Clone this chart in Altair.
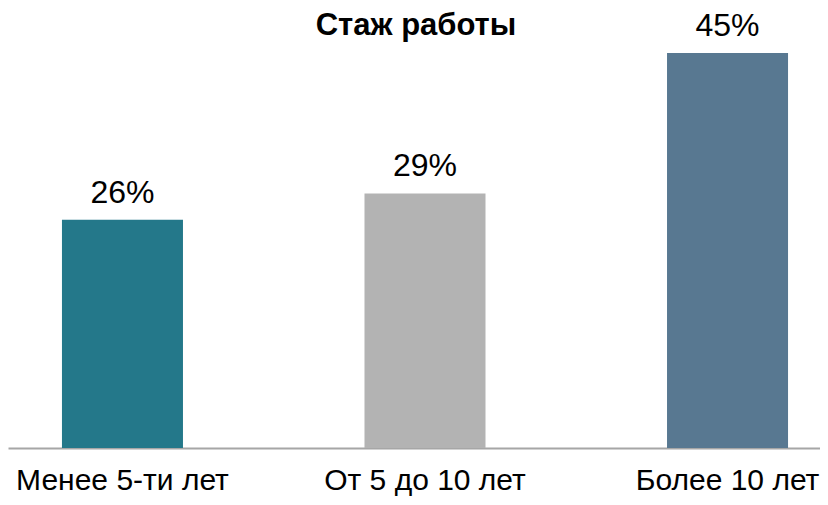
import altair as alt
import pandas as pd

categories = ["Менее 5-ти лет", "От 5 до 10 лет", "Более 10 лет"]
values = [26, 29, 45]
colors = ["#24788a", "#b3b3b3", "#587891"]
title_text = "Стаж работы"

df = pd.DataFrame({"cat": categories, "val": values, "color": colors})

FONT = "Liberation Sans"

x = alt.X(
    "cat:N",
    sort=categories,
    scale=alt.Scale(paddingInner=0.6, paddingOuter=0.142, align=0.628),
    axis=alt.Axis(
        title=None, labelAngle=0, ticks=False, tickSize=0, labelPadding=17,
        labelFontSize=30, labelFont=FONT, labelColor="#000000",
        domainColor="#a6a6a6", domainWidth=2, grid=False, labelLimit=400,
    ),
)
y = alt.Y("val:Q", scale=alt.Scale(domain=[0, 50]), axis=None)

base = alt.Chart(df)
bars = base.mark_bar().encode(x=x, y=y, color=alt.Color("color:N", scale=None))
labels = base.transform_calculate(lbl="datum.val + '%'").mark_text(
    dy=-17, baseline="alphabetic", fontSize=32, font=FONT, color="#000000"
).encode(x=x, y=y, text="lbl:N")

title = alt.Chart(pd.DataFrame({"t": [title_text]})).mark_text(
    fontSize=31, font=FONT, fontWeight="bold", baseline="alphabetic", color="#000000"
).encode(text="t:N", x=alt.value(408), y=alt.value(26))

chart = alt.layer(bars, labels, title).properties(
    width=812, height=439,
    padding={"left": 0, "top": 1, "right": 0, "bottom": 49},
    autosize="none",
).configure_view(stroke=None)

chart.save("out.html", embed_options={"renderer": "svg", "actions": False})
